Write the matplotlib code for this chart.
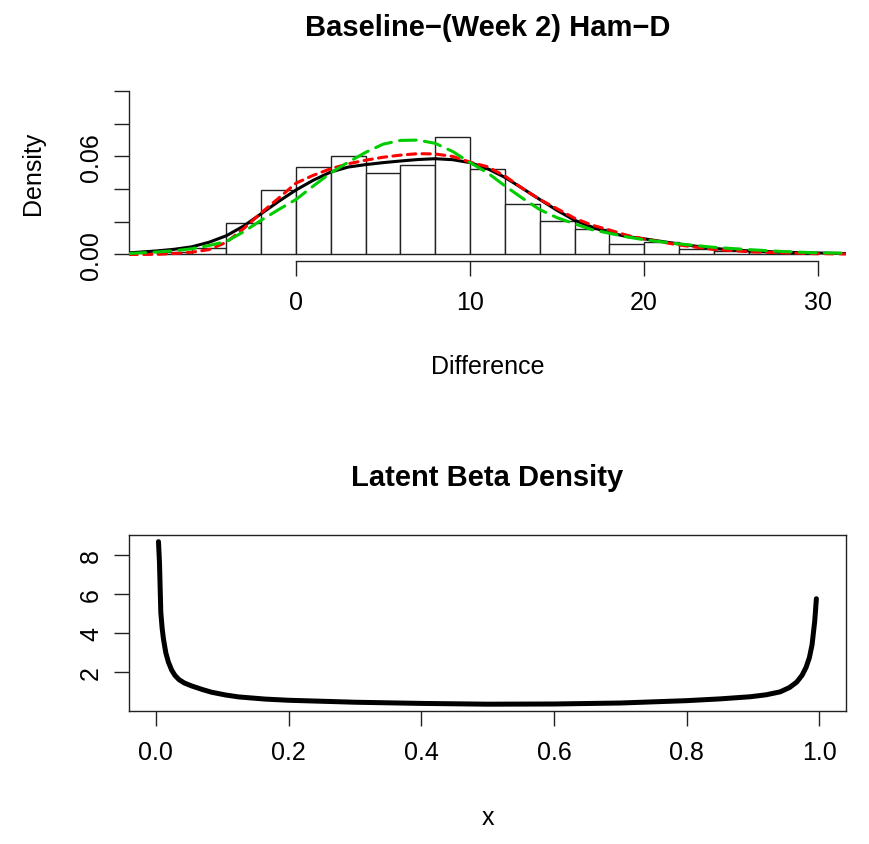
import numpy as np
import matplotlib.pyplot as plt

plt.rcParams['font.family'] = ['Liberation Sans', 'DejaVu Sans']
plt.rcParams['lines.scale_dashes'] = False

# histogram of Baseline - (Week 2) Ham-D differences (bin width 2)
bin_edges = [-8, -6, -4, -2, 0, 2, 4, 6, 8, 10, 12, 14, 16, 18, 20, 22, 24, 26, 28, 30]
bin_density = [0.0017, 0.0041, 0.0194, 0.0394, 0.0538, 0.0603, 0.0501, 0.0548, 0.0716,
               0.0526, 0.0307, 0.0204, 0.0158, 0.0066, 0.0075, 0.0035, 0.0020, 0.0015, 0.0012]

# fitted densities
fit_x = [-9.6, -8, -7, -6, -5, -4, -3, -2, -1, 0, 1, 2, 3, 4, 5, 6, 7, 8, 9, 10,
         11, 12, 13, 14, 15, 16, 17, 18, 19, 20, 22, 24, 26, 28, 30, 31.6]
black_y = [0.0010, 0.0022, 0.0032, 0.0047, 0.0075, 0.0115, 0.0175, 0.0250, 0.0325, 0.0395,
           0.0455, 0.0505, 0.0535, 0.0550, 0.0562, 0.0572, 0.0581, 0.0586, 0.0580, 0.0562,
           0.0525, 0.0472, 0.0405, 0.0337, 0.0270, 0.0210, 0.0168, 0.0133, 0.0110, 0.0096,
           0.0064, 0.0037, 0.0022, 0.0014, 0.0009, 0.0006]
red_y = [0.0000, 0.0001, 0.0006, 0.0014, 0.0030, 0.0075, 0.0160, 0.0255, 0.0345, 0.0437,
         0.0485, 0.0525, 0.0555, 0.0577, 0.0595, 0.0608, 0.0617, 0.0615, 0.0600, 0.0565,
         0.0537, 0.0480, 0.0405, 0.0337, 0.0280, 0.0222, 0.0180, 0.0150, 0.0118, 0.0095,
         0.0058, 0.0031, 0.0017, 0.0010, 0.0005, 0.0003]
green_y = [0.0006, 0.0015, 0.0023, 0.0035, 0.0055, 0.0080, 0.0140, 0.0210, 0.0275, 0.0337,
           0.0420, 0.0500, 0.0565, 0.0625, 0.0675, 0.0698, 0.0700, 0.0680, 0.0630, 0.0562,
           0.0500, 0.0420, 0.0345, 0.0275, 0.0225, 0.0188, 0.0152, 0.0130, 0.0108, 0.0090,
           0.0065, 0.0044, 0.0030, 0.0018, 0.0010, 0.0008]

# latent beta density
beta_x = [0.004, 0.0055, 0.0075, 0.0095, 0.0115, 0.015, 0.019, 0.024, 0.029, 0.035, 0.043,
          0.054, 0.07, 0.084, 0.105, 0.125, 0.165, 0.2, 0.3, 0.4, 0.5, 0.6, 0.7, 0.8, 0.85,
          0.896, 0.92, 0.941, 0.955, 0.966, 0.974, 0.98, 0.985, 0.989, 0.993, 0.9955]
beta_y = [8.66, 7.60, 5.06, 4.25, 3.70, 3.00, 2.51, 2.10, 1.83, 1.62, 1.45, 1.30, 1.12,
          0.98, 0.84, 0.74, 0.63, 0.57, 0.47, 0.41, 0.37, 0.38, 0.43, 0.55, 0.64, 0.75,
          0.85, 1.00, 1.22, 1.50, 1.85, 2.25, 2.75, 3.40, 4.60, 5.75]

fig = plt.figure(figsize=(8.7, 8.45), dpi=100)
tick_kw = dict(length=10.8, width=1.0, labelsize=18, color='#222222')

# ---- top panel ----
ax1 = fig.add_axes([0.1483, 0.6899, 0.8241, 0.2089])
lefts = bin_edges[:-1]
widths = np.diff(bin_edges)
ax1.bar(lefts, bin_density, width=widths, align='edge', facecolor='white',
        edgecolor='#222222', linewidth=1.0, zorder=1)
ax1.plot(fit_x, black_y, color='black', lw=2.2, zorder=3, solid_capstyle='round',
         solid_joinstyle='round')
ax1.plot(fit_x, red_y, color='#FF0000', lw=2.2, dashes=(6, 4.5), zorder=4,
         dash_capstyle='round')
ax1.plot(fit_x, green_y, color='#00CD00', lw=2.2, dashes=(12, 6), zorder=5,
         dash_capstyle='round')
ax1.set_xlim(-9.6, 31.6)
ax1.set_ylim(-0.004, 0.104)
ax1.set_xticks([0, 10, 20, 30])
ax1.set_yticks([0, 0.02, 0.04, 0.06, 0.08, 0.10])
ax1.set_yticklabels(['0.00', '', '', '0.06', '', ''], rotation=90, va='center')
ax1.tick_params(axis='both', **tick_kw)
ax1.tick_params(axis='x', pad=10)
ax1.tick_params(axis='y', pad=8)
for s in ['top', 'right']:
    ax1.spines[s].set_visible(False)
ax1.spines['left'].set_bounds(0, 0.10)
ax1.spines['bottom'].set_bounds(0, 30)
for s in ['left', 'bottom']:
    ax1.spines[s].set_linewidth(1.0)
    ax1.spines[s].set_color('#222222')
ax1.set_title('Baseline\u2212(Week 2) Ham\u2212D', fontsize=21, fontweight='bold', pad=36)
ax1.set_xlabel('Difference', fontsize=18, va='center')
ax1.xaxis.set_label_coords(0.5, -0.595)
ax1.set_ylabel('Density', fontsize=18, va='center')
ax1.yaxis.set_label_coords(-0.134, 0.5)

# ---- bottom panel ----
ax2 = fig.add_axes([0.1486, 0.1578, 0.8237, 0.2079])
ax2.plot(beta_x, beta_y, color='black', lw=3.6, solid_capstyle='round',
         solid_joinstyle='round')
ax2.set_xlim(-0.04, 1.04)
ax2.set_ylim(0.04, 9.0)
ax2.set_xticks([0.0, 0.2, 0.4, 0.6, 0.8, 1.0])
ax2.set_xticklabels(['0.0', '0.2', '0.4', '0.6', '0.8', '1.0'])
ax2.set_yticks([2, 4, 6, 8])
ax2.set_yticklabels(['2', '4', '6', '8'], rotation=90, va='center')
ax2.tick_params(axis='both', **tick_kw)
ax2.tick_params(axis='x', pad=10)
ax2.tick_params(axis='y', pad=8)
for s in ax2.spines.values():
    s.set_linewidth(1.0)
    s.set_color('#222222')
ax2.set_title('Latent Beta Density', fontsize=21, fontweight='bold', pad=36)
ax2.set_xlabel('x', fontsize=18, va='center')
ax2.xaxis.set_label_coords(0.5, -0.605)

fig.savefig('out.png', dpi=100)
